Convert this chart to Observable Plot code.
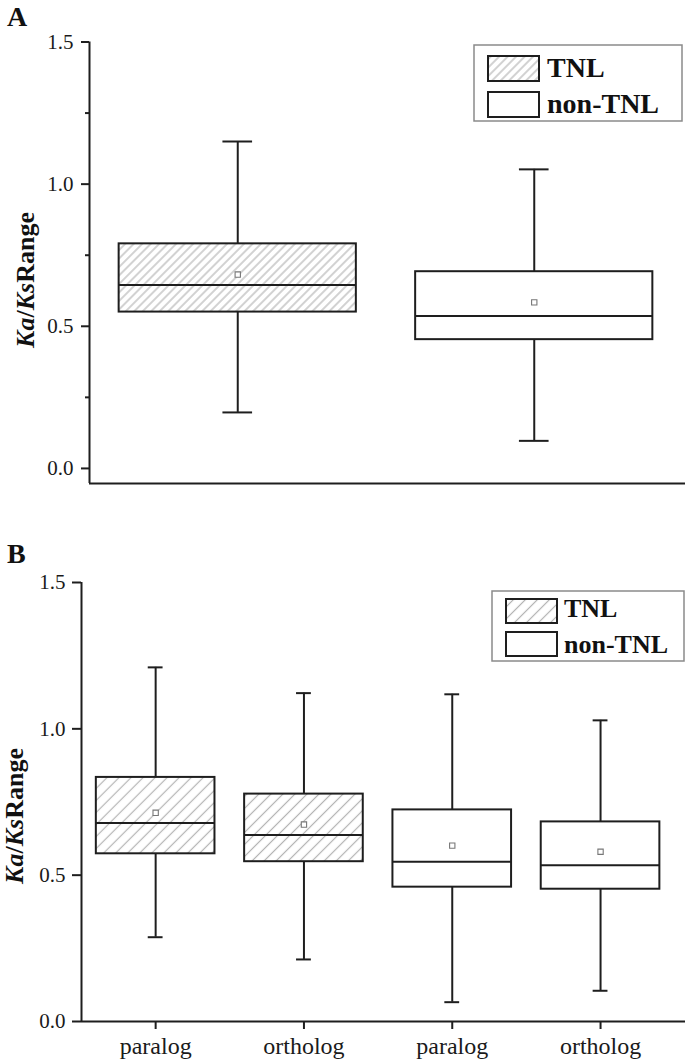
<!DOCTYPE html>
<html><head><meta charset="utf-8">
<script src="https://cdn.jsdelivr.net/npm/d3@7"></script>
<script src="https://cdn.jsdelivr.net/npm/@observablehq/plot@0.6"></script>
<style>
body{margin:0;background:#fff;}
#wrap{position:relative;width:685px;height:1061px;}
.panel{position:absolute;left:0;}
</style></head><body>
<div id="wrap"></div>
<script>
// ---------- data ----------
const groupsA = ["TNL", "non-TNL"];
const whiskerHighA = [1.150, 1.052];
const q3A = [0.790, 0.692];
const medianA = [0.645, 0.536];
const q1A = [0.550, 0.453];
const whiskerLowA = [0.197, 0.097];
const meanA = [0.682, 0.584];

const typesB = ["paralog", "ortholog", "paralog", "ortholog"];
const groupsB = ["TNL", "TNL", "non-TNL", "non-TNL"];
const whiskerHighB = [1.210, 1.122, 1.118, 1.029];
const q3B = [0.834, 0.777, 0.723, 0.682];
const medianB = [0.678, 0.637, 0.546, 0.534];
const q1B = [0.573, 0.546, 0.459, 0.452];
const whiskerLowB = [0.288, 0.212, 0.066, 0.105];
const meanB = [0.713, 0.673, 0.601, 0.580];

const yTicks = [0, 0.5, 1.0, 1.5];
const minorTicksA = [0.25, 0.75, 1.25];
const legendLabels = ["TNL", "non-TNL"];

// ---------- helpers ----------
const INK = "#1e1e1e";
const FONT = "'Liberation Serif','Times New Roman',serif";
const BOX = 0.4, CAP = 0.05;

function rows(groups, lo, q1, med, q3, hi, mean, types) {
  return groups.map((g, i) => ({i, group: g, type: types ? types[i] : g,
    lo: lo[i], q1: q1[i], med: med[i], q3: q3[i], hi: hi[i], mean: mean[i]}));
}

function boxMarks(data, hatchId) {
  return [
    Plot.ruleX(data, {x: "i", y1: "q3", y2: "hi", stroke: INK, strokeWidth: 2}),
    Plot.ruleX(data, {x: "i", y1: "lo", y2: "q1", stroke: INK, strokeWidth: 2}),
    Plot.ruleY(data, {y: "hi", x1: d => d.i - CAP, x2: d => d.i + CAP, stroke: INK, strokeWidth: 2}),
    Plot.ruleY(data, {y: "lo", x1: d => d.i - CAP, x2: d => d.i + CAP, stroke: INK, strokeWidth: 2}),
    Plot.rect(data, {x1: d => d.i - BOX, x2: d => d.i + BOX, y1: "q1", y2: "q3",
      fill: d => d.group === "TNL" ? `url(#${hatchId})` : "white", stroke: INK, strokeWidth: 2}),
    Plot.ruleY(data, {y: "med", x1: d => d.i - BOX, x2: d => d.i + BOX, stroke: INK, strokeWidth: 2}),
    Plot.dot(data, {x: "i", y: "mean", symbol: "square", r: 3, stroke: "#777", fill: "white", strokeWidth: 1.1})
  ];
}

function addHatch(svg, id, spacing) {
  const defs = d3.select(svg).insert("defs", ":first-child");
  const p = defs.append("pattern").attr("id", id).attr("patternUnits", "userSpaceOnUse")
    .attr("width", spacing).attr("height", spacing).attr("patternTransform", "rotate(45)");
  p.append("rect").attr("width", spacing).attr("height", spacing).attr("fill", "white");
  p.append("line").attr("x1", spacing / 2).attr("x2", spacing / 2).attr("y1", 0).attr("y2", spacing)
    .attr("stroke", "#b4b4b4").attr("stroke-width", 1.2);
}

function addYLabel(svg, x, y) {
  const t = d3.select(svg).append("text")
    .attr("transform", `translate(${x},${y}) rotate(-90)`)
    .attr("text-anchor", "middle").attr("font-family", FONT).attr("font-weight", "bold")
    .attr("font-size", 26).attr("fill", "#111");
  t.append("tspan").attr("font-style", "italic").text("Ka");
  t.append("tspan").text("/");
  t.append("tspan").attr("font-style", "italic").text("Ks");
  t.append("tspan").text("Range");
}

function addLetter(svg, letter, x, y) {
  d3.select(svg).append("text").attr("x", x).attr("y", y).attr("font-family", FONT)
    .attr("text-anchor", "start")
    .attr("font-weight", "bold").attr("font-size", 28).attr("fill", "#111").text(letter);
}

function addLegend(svg, hatchId, L) {
  const g = d3.select(svg).append("g").attr("text-anchor", "start");
  g.append("rect").attr("x", L.x).attr("y", L.y).attr("width", L.w).attr("height", L.h)
    .attr("fill", "white").attr("stroke", "#8a8a8a").attr("stroke-width", 1.5);
  legendLabels.forEach((lab, k) => {
    g.append("rect").attr("x", L.sx).attr("y", L.sy[k]).attr("width", L.sw).attr("height", L.sh)
      .attr("fill", k === 0 ? `url(#${hatchId})` : "white").attr("stroke", INK).attr("stroke-width", 2);
    g.append("text").attr("x", L.tx).attr("y", L.ty[k]).attr("font-family", FONT)
      .attr("text-anchor", "start")
      .attr("font-weight", "bold").attr("font-size", L.fs).attr("fill", "#111").text(lab);
  });
}

const wrap = document.getElementById("wrap");

// ---------- Panel A ----------
const dataA = rows(groupsA, whiskerLowA, q1A, medianA, q3A, whiskerHighA, meanA);
const yBottomA = -0.053;
const svgA = Plot.plot({
  width: 685, height: 530,
  marginLeft: 89, marginRight: 0, marginTop: 41.5, marginBottom: 47,
  style: {fontFamily: FONT, fontSize: "21px", color: "#1a1a1a", background: "white", overflow: "visible"},
  x: {domain: [-0.5, 1.5], range: [89, 682], axis: null, label: null},
  y: {domain: [yBottomA, 1.5], axis: null, label: null},
  marks: [
    ...boxMarks(dataA, "hatchA"),
    Plot.axisY(yTicks, {tickSize: 8, tickPadding: 8, tickFormat: d3.format(".1f"), fontSize: 21, label: null, strokeWidth: 2, stroke: INK}),
    Plot.axisY(minorTicksA, {tickSize: 4, tickFormat: () => "", label: null, strokeWidth: 2, stroke: INK}),
    Plot.ruleX([-0.5], {stroke: INK, strokeWidth: 2}),
    Plot.ruleY([yBottomA], {stroke: INK, strokeWidth: 2})
  ]
});
svgA.classList.add("panel"); svgA.style.top = "0px";
addHatch(svgA, "hatchA", 6);
addYLabel(svgA, 34, 280);
addLetter(svgA, "A", 7, 26);
addLegend(svgA, "hatchA", {x: 474, y: 45, w: 208, h: 76, sx: 488, sy: [56, 92], sw: 51, sh: 25, tx: 547, ty: [77, 113], fs: 28});
wrap.appendChild(svgA);

// ---------- Panel B ----------
const dataB = rows(groupsB, whiskerLowB, q1B, medianB, q3B, whiskerHighB, meanB, typesB);
const svgB = Plot.plot({
  width: 685, height: 531,
  marginLeft: 81, marginRight: 0, marginTop: 52, marginBottom: 40,
  style: {fontFamily: FONT, fontSize: "21px", color: "#1a1a1a", background: "white", overflow: "visible"},
  x: {domain: [-0.5, 3.5], range: [81, 674.2], axis: null, label: null},
  y: {domain: [0, 1.5], axis: null, label: null},
  marks: [
    ...boxMarks(dataB, "hatchB"),
    Plot.axisX(typesB.map((t, i) => i), {tickSize: 8, tickPadding: 7, tickFormat: i => typesB[i], fontSize: 24, label: null, strokeWidth: 2, stroke: INK}),
    Plot.axisY(yTicks, {tickSize: 9, tickPadding: 7, tickFormat: d3.format(".1f"), fontSize: 21, label: null, strokeWidth: 2, stroke: INK}),
    Plot.ruleX([-0.5], {stroke: INK, strokeWidth: 2}),
    Plot.ruleY([0], {stroke: INK, strokeWidth: 2})
  ]
});
svgB.classList.add("panel"); svgB.style.top = "530px";
addHatch(svgB, "hatchB", 8.5);
addYLabel(svgB, 23, 286);
addLetter(svgB, "B", 7, 33);
addLegend(svgB, "hatchB", {x: 492, y: 61, w: 192, h: 70, sx: 506, sy: [69, 102], sw: 51, sh: 24, tx: 564, ty: [87, 123], fs: 26});
wrap.appendChild(svgB);
</script>
</body></html>
